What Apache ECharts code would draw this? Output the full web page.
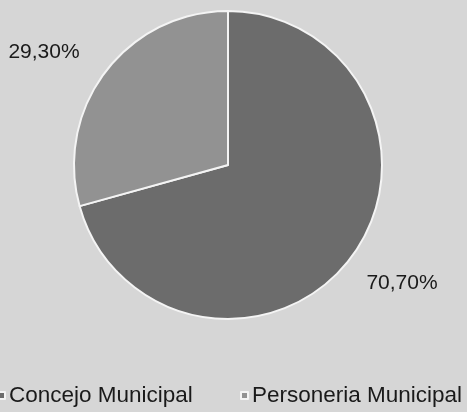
<!DOCTYPE html>
<html><head><meta charset="utf-8">
<script src="https://cdn.jsdelivr.net/npm/echarts@6/dist/echarts.min.js"></script>
<style>html,body{margin:0;padding:0;background:#d6d6d6}#c{width:467px;height:412px}</style>
</head><body><div id="c"></div>
<script>
const categories = ['Concejo Municipal', 'Personeria Municipal'];
const values = [70.7, 29.3];
const labelTexts = ['70,70%', '29,30%'];

const colors = ['#6c6c6c', '#929292'];
const labelPos = [[402, 283], [44, 52]];
const legendLeft = [-8, 235];

const chart = echarts.init(document.getElementById('c'));
chart.setOption({
  backgroundColor: '#d6d6d6',
  animation: false,
  legend: categories.map((c, i) => ({
    top: 379,
    left: legendLeft[i],
    icon: 'rect',
    itemWidth: 7,
    itemHeight: 7,
    itemGap: 5,
    textStyle: { fontFamily: 'Liberation Sans', fontSize: 22.5, color: '#1a1a1a', padding: [0, 0, 0, -1] },
    data: [c]
  })),
  series: [{
    type: 'pie',
    center: [228, 165],
    radius: ['0%', 154],
    startAngle: 90,
    clockwise: true,
    itemStyle: { borderColor: '#f4f4f4', borderWidth: 2 },
    label: {
      show: true,
      position: 'outside',
      alignTo: 'none',
      overflow: 'none',
      width: 200,
      formatter: p => labelTexts[p.dataIndex],
      fontFamily: 'Liberation Sans',
      fontSize: 21,
      color: '#1a1a1a'
    },
    labelLine: { show: false },
    labelLayout: function (p) {
      const pos = labelPos[p.dataIndex];
      return { x: pos[0], y: pos[1], align: 'center', verticalAlign: 'middle' };
    },
    data: categories.map((c, i) => ({ name: c, value: values[i], itemStyle: { color: colors[i] } }))
  }]
});
</script></body></html>
